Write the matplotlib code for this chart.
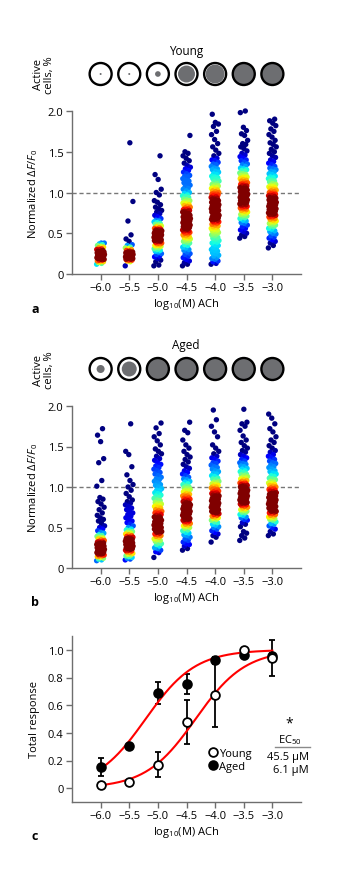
import numpy as np
import matplotlib
matplotlib.use('Agg')
import matplotlib.pyplot as plt
from matplotlib.patches import Circle
from matplotlib.lines import Line2D

plt.rcParams['font.family'] = ['Open Sans', 'DejaVu Sans']
plt.rcParams['mathtext.fontset'] = 'custom'
plt.rcParams['mathtext.rm'] = 'Open Sans'
plt.rcParams['mathtext.it'] = 'Open Sans:italic'
plt.rcParams['mathtext.bf'] = 'Open Sans:bold'
plt.rcParams['axes.unicode_minus'] = True

# ---------------- data ----------------
concentrations = [-6.0, -5.5, -5.0, -4.5, -4.0, -3.5, -3.0]
x_tick_labels = ['\u22126.0', '\u22125.5', '\u22125.0', '\u22124.5', '\u22124.0', '\u22123.5', '\u22123.0']

# fraction of active cells (area of grey disc)
young_active = [0.01, 0.01, 0.08, 0.72, 0.90, 1.0, 1.0]
aged_active = [0.16, 0.56, 1.0, 1.0, 1.0, 1.0, 1.0]

# normalized dF/F0 values (x100), young
young_m60 = [12,13,14,15,15,16,17,17,18,18,19,19,20,20,21,21,22,22,23,23,24,24,24,25,25,25,26,26,27,27,28,28,29,30,30,31,32,33,34,35,36,37,38,38]
young_m55 = [10,15,16,17,17,18,18,19,19,20,20,20,21,21,21,22,22,22,23,23,23,24,24,24,25,25,26,26,27,27,28,29,30,31,32,33,35,36,40,43,48,65,89,161]
young_m50 = [10,11,15,17,19,21,22,24,25,27,28,29,30,31,32,33,34,35,35,36,37,38,38,39,40,40,41,41,42,42,43,43,44,44,45,45,46,46,47,47,47,48,48,48,49,49,49,50,50,50,51,51,52,52,53,53,54,54,55,55,56,57,58,59,60,61,62,63,64,65,66,68,70,72,74,76,78,80,82,85,88,90,97,100,104,116,122,145]
young_m45 = [10,12,14,16,18,20,22,24,25,27,29,30,32,33,35,36,38,39,40,41,42,43,44,45,46,47,48,49,
             50,51,51,52,53,54,54,55,56,57,57,58,59,59,60,60,61,62,62,63,64,64,65,66,66,67,67,68,68,69,69,
             70,70,71,72,72,73,74,74,75,76,77,77,78,79,79,80,81,82,83,84,85,86,87,88,89,
             90,91,92,94,95,96,97,99,100,102,104,105,107,109,110,112,114,115,117,119,
             120,121,123,125,127,129,131,133,136,139,142,145,148,150,170]
young_m40 = [12,13,15,16,18,19,20,22,23,25,26,28,29,30,32,33,35,36,38,39,40,41,43,44,45,47,48,49,
             50,51,52,53,54,55,56,57,58,59,60,61,62,63,64,64,65,66,67,67,68,69,69,
             70,70,71,72,72,73,74,74,75,76,76,77,78,78,79,79,80,80,81,81,82,83,83,84,84,85,86,86,87,88,88,89,89,
             90,91,92,93,93,94,95,96,97,97,98,99,99,100,101,102,103,104,105,106,107,108,109,
             110,111,113,114,116,117,118,119,120,122,123,125,126,128,129,130,132,134,135,137,139,
             140,142,145,148,152,156,160,165,171,175,181,184,186,196]
young_m35 = [44,46,48,50,52,54,56,58,60,62,63,65,66,68,69,70,71,72,73,74,75,76,77,78,79,
             80,81,81,82,83,83,84,85,85,86,87,88,88,89,
             90,90,91,91,92,92,93,94,94,95,95,96,96,97,97,98,98,99,
             100,100,101,101,102,102,103,104,104,105,105,106,107,108,108,109,
             110,111,111,112,113,114,115,116,117,118,118,119,120,121,122,123,124,126,127,128,129,
             130,132,134,135,137,139,140,142,144,146,148,151,154,156,159,160,164,170,172,176,180,198,200]
young_m30 = [32,35,38,40,42,44,45,47,49,50,52,53,55,56,58,59,60,61,62,63,64,65,66,67,68,69,
             70,71,71,72,73,73,74,75,75,76,77,77,78,79,79,
             80,80,81,81,82,82,83,84,84,85,85,86,86,87,88,88,89,89,
             90,91,91,92,93,93,94,95,96,96,97,98,98,99,100,101,102,103,104,105,106,107,107,108,109,
             110,111,113,114,115,117,118,119,120,122,123,125,126,128,129,130,132,134,136,138,
             140,143,145,148,150,153,156,159,161,164,168,171,175,178,182,185,188,190]

# normalized dF/F0 values (x100), aged
aged_m60 = [9,10,11,12,13,14,15,15,16,17,17,18,18,19,19,20,20,21,21,22,22,23,23,24,24,25,25,26,26,27,27,28,28,29,29,
            30,30,31,31,32,33,33,34,35,36,37,38,39,40,41,43,44,46,48,50,52,55,58,60,62,65,68,72,75,79,82,85,87,
            101,108,130,135,156,164,172]
aged_m55 = [10,11,12,13,14,15,16,17,18,19,20,21,22,22,23,24,24,25,25,26,26,27,27,28,28,29,29,30,30,31,31,32,32,
            33,33,34,34,35,35,36,36,37,38,38,39,40,41,42,43,44,45,46,47,48,50,52,54,56,58,60,62,64,66,68,70,72,
            74,76,78,80,82,84,88,92,96,100,103,108,115,125,140,144,178]
aged_m50 = [13,19,20,22,24,25,27,29,30,31,33,34,35,36,38,39,40,41,42,43,44,45,45,46,47,48,48,49,
            50,50,51,51,52,53,53,54,55,55,56,57,57,58,59,60,61,62,62,63,64,65,66,67,68,68,69,
            70,71,72,74,75,76,77,78,79,80,81,83,84,86,87,89,90,92,93,95,96,98,
            100,102,103,105,107,109,110,112,114,116,118,120,122,124,126,128,130,133,135,138,
            141,144,147,152,157,162,166,173,179]
aged_m45 = [22,24,27,29,30,32,34,36,38,40,41,43,44,46,47,49,50,51,52,53,54,55,56,57,58,58,59,
            60,60,61,62,63,63,64,65,66,66,67,68,68,69,69,70,70,71,71,72,73,73,74,75,75,76,77,77,78,79,79,
            80,81,82,83,84,85,85,86,87,88,89,89,90,91,92,94,95,96,97,98,99,
            100,101,103,104,106,107,109,110,112,114,116,118,120,123,125,128,131,134,137,140,144,148,
            152,158,167,170,180]
aged_m40 = [32,38,40,42,44,46,48,50,51,53,54,56,57,59,60,61,62,63,64,65,66,67,68,69,69,
            70,70,71,71,72,72,73,74,74,75,75,76,77,77,78,79,79,80,80,81,82,82,83,84,84,85,86,86,87,88,89,89,
            90,91,92,92,93,94,95,96,97,97,98,99,100,101,102,103,104,105,106,107,109,
            110,111,113,114,116,117,119,120,122,124,125,127,129,130,132,134,136,138,141,144,148,
            152,162,168,175,183,195]
aged_m35 = [34,37,40,43,45,51,54,56,59,60,62,63,65,66,68,69,70,71,72,73,74,75,76,77,78,78,79,
            80,80,81,81,82,83,83,84,85,85,86,87,87,88,89,89,90,90,91,91,92,92,93,93,94,95,95,96,96,97,97,98,99,
            100,100,101,102,102,103,104,104,105,106,107,108,109,110,111,112,113,114,115,116,118,119,
            120,122,123,125,126,128,129,130,132,134,136,138,140,143,145,148,151,155,158,
            163,170,175,178,180,196]
aged_m30 = [40,42,45,48,50,52,54,55,57,59,60,61,62,63,64,65,66,67,68,69,
            70,70,71,72,72,73,74,74,75,76,76,77,78,78,79,80,80,81,81,82,83,83,84,85,85,86,87,87,88,89,89,
            90,91,92,92,93,94,95,96,97,97,98,99,100,101,102,103,104,105,106,107,109,
            110,111,113,114,116,117,119,120,122,124,125,127,129,130,132,134,136,138,
            140,143,145,148,151,155,158,162,168,172,178,185,190]

young_columns = [young_m60, young_m55, young_m50, young_m45, young_m40, young_m35, young_m30]
aged_columns = [aged_m60, aged_m55, aged_m50, aged_m45, aged_m40, aged_m35, aged_m30]

# total response (panel c)
young_resp = [0.024, 0.045, 0.17, 0.48, 0.67, 1.00, 0.94]
young_err = [0.01, 0.01, 0.088, 0.16, 0.23, 0.01, 0.13]
aged_resp = [0.155, 0.306, 0.69, 0.756, 0.925, 0.965, 0.955]
aged_err = [0.065, 0.01, 0.08, 0.072, 0.02, 0.015, 0.02]
ec50_young_uM = 45.5
ec50_aged_uM = 6.1

# ---------------- layout helpers ----------------
W, H = 339, 887
fig = plt.figure(figsize=(W / 100, H / 100), dpi=100)


def fx(px):
    return px / W


def fy(py):
    return 1 - py / H


AX_L, AX_R = 72, 301
SPINE_C = '#6e6e6e'
FS = 8


def style_axes(ax):
    for s in ['top', 'right']:
        ax.spines[s].set_visible(False)
    for s in ['left', 'bottom']:
        ax.spines[s].set_color(SPINE_C)
        ax.spines[s].set_linewidth(1.0)
    ax.tick_params(axis='both', direction='out', length=4, width=1.0, color=SPINE_C,
                   labelsize=FS, pad=2)
    ax.set_xlim(-6.5, -2.5)
    ax.set_xticks(concentrations)
    ax.set_xticklabels(x_tick_labels)
    ax.set_xlabel(r'log$_{10}$(M) ACh', fontsize=FS, labelpad=2)


def draw_circles(top_px, bottom_px, active):
    cax = fig.add_axes([fx(AX_L), fy(bottom_px), (AX_R - AX_L) / W, (bottom_px - top_px) / H])
    upp = 4.0 / (AX_R - AX_L)  # data units per pixel
    half = (bottom_px - top_px) / 2 * upp
    cax.set_xlim(-6.5, -2.5)
    cax.set_ylim(-half, half)
    cax.axis('off')
    R = 11.0 * upp
    Rin = 10.0 * upp
    for x, fr in zip(concentrations, active):
        if fr >= 0.999:
            cax.add_patch(Circle((x, 0), R, facecolor='#6d6e71', edgecolor='black', lw=1.7))
        else:
            cax.add_patch(Circle((x, 0), R, facecolor='white', edgecolor='black', lw=1.7))
            cax.add_patch(Circle((x, 0), np.sqrt(fr) * Rin, facecolor='#6d6e71', edgecolor='none'))


def draw_strip(ax, columns):
    h = 0.06
    w = 0.07
    for x, vals in zip(concentrations, columns):
        y = np.sort(np.asarray(vals, dtype=float) / 100.0)
        n = len(y)
        idx = np.arange(n)
        off = ((idx * 0.6180339887) % 1.0 - 0.5) * 2 * w
        d = np.exp(-((y[:, None] - y[None, :]) ** 2) / (2 * h * h)).sum(axis=1) - 1.0
        d = d / d.max()
        c = np.clip((d - 0.2) / 0.65, 0, 1)
        order = np.argsort(c, kind='stable')
        ax.scatter(x + off[order], y[order], c=c[order], cmap='jet', vmin=0, vmax=1,
                   s=15, linewidths=0, clip_on=False, zorder=3)


def strip_panel(top_px, bottom_px, columns):
    ax = fig.add_axes([fx(AX_L), fy(bottom_px), (AX_R - AX_L) / W, (bottom_px - top_px) / H])
    style_axes(ax)
    ax.set_ylim(0, 2.0)
    ax.set_yticks([0, 0.5, 1.0, 1.5, 2.0])
    ax.set_yticklabels(['0', '0.5', '1.0', '1.5', '2.0'])
    ax.axhline(1.0, color='#777777', lw=1.0, ls=(0, (3, 2)), zorder=1)
    draw_strip(ax, columns)
    ax.set_ylabel(r'Normalized $\Delta\mathit{F}/\mathit{F}_0$', fontsize=FS)
    ax.yaxis.set_label_coords(-0.14, 0.5)
    return ax


# ---------------- panel a ----------------
fig.text(fx(186), fy(52), 'Young', ha='center', va='center', fontsize=8.5)
fig.text(fx(44), fy(75), 'Active\ncells, %', ha='center', va='center', rotation=90,
         fontsize=FS, linespacing=1.1)
draw_circles(60, 90, young_active)
axa = strip_panel(112, 275, young_columns)
fig.text(fx(35), fy(310), 'a', ha='center', va='center', fontsize=9, fontweight='bold')

# ---------------- panel b ----------------
fig.text(fx(186), fy(346), 'Aged', ha='center', va='center', fontsize=8.5)
fig.text(fx(44), fy(370), 'Active\ncells, %', ha='center', va='center', rotation=90,
         fontsize=FS, linespacing=1.1)
draw_circles(355, 385, aged_active)
axb = strip_panel(407, 569, aged_columns)
fig.text(fx(35), fy(603), 'b', ha='center', va='center', fontsize=9, fontweight='bold')

# ---------------- panel c ----------------
axc = fig.add_axes([fx(AX_L), fy(803), (AX_R - AX_L) / W, (803 - 637) / H])
style_axes(axc)
axc.set_ylim(-0.1, 1.1)
axc.set_yticks([0, 0.2, 0.4, 0.6, 0.8, 1.0])
axc.set_yticklabels(['0', '0.2', '0.4', '0.6', '0.8', '1.0'])
axc.set_ylabel('Total response', fontsize=FS)
axc.yaxis.set_label_coords(-0.14, 0.5)

xs = np.linspace(-6.0, -3.0, 300)
for ec in [ec50_aged_uM, ec50_young_uM]:
    log_ec = np.log10(ec * 1e-6)
    axc.plot(xs, 1.0 / (1.0 + 10 ** (log_ec - xs)), color='#ff0000', lw=1.5, zorder=3)

axc.errorbar(concentrations, aged_resp, yerr=aged_err, fmt='none', ecolor='black',
             elinewidth=1.3, capsize=2.5, capthick=1.3, zorder=2)
axc.errorbar(concentrations, young_resp, yerr=young_err, fmt='none', ecolor='black',
             elinewidth=1.3, capsize=2.5, capthick=1.3, zorder=2)
axc.plot(concentrations, aged_resp, 'o', ms=6.3, mfc='black', mec='black', mew=1.3, zorder=4)
axc.plot(concentrations, young_resp, 'o', ms=6.3, mfc='white', mec='black', mew=1.3, zorder=5)

handles = [Line2D([], [], marker='o', ls='none', ms=6.3, mfc='white', mec='black', mew=1.3),
           Line2D([], [], marker='o', ls='none', ms=6.3, mfc='black', mec='black', mew=1.3)]
axc.legend(handles, ['Young', 'Aged'], loc='upper left', bbox_to_anchor=(0.60, 0.325),
           frameon=False, fontsize=FS, handlelength=0.7, handletextpad=0.15,
           borderpad=0, borderaxespad=0, labelspacing=0.15)

fig.text(fx(289), fy(724), '*', ha='center', va='center', fontsize=10)
fig.text(fx(290), fy(740), r'EC$_{50}$', ha='center', va='center', fontsize=FS)
fig.add_artist(Line2D([fx(275), fx(310)], [fy(748), fy(748)], color='#8a8a8a', lw=1.0))
fig.text(fx(309), fy(758), '45.5 \u03bcM', ha='right', va='center', fontsize=FS)
fig.text(fx(309), fy(771), '6.1 \u03bcM', ha='right', va='center', fontsize=FS)

fig.text(fx(35), fy(837), 'c', ha='center', va='center', fontsize=9, fontweight='bold')

fig.savefig('out.png', dpi=100)
